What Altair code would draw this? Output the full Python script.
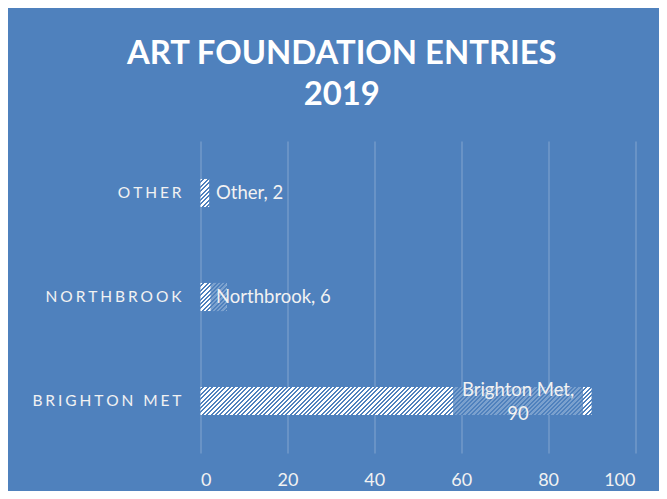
import altair as alt
import pandas as pd

# ---- data ----
categories = ["Other", "Northbrook", "Brighton Met"]
entries = [2, 6, 90]
x_ticks = [0, 20, 40, 60, 80, 100]
title_lines = ["ART FOUNDATION ENTRIES", "2019"]

# ---- style / layout ----
BG = "#4F81BD"
TXT = "#F2F2F2"
FONT = "Lato"
PLOT_W = 434.5
PLOT_H = 312
PAD = {"left": 192.5, "top": 133, "right": 24, "bottom": 38}
X_MAX = 100
PAD_INNER = 0.73
STEP = PLOT_H / len(categories)
BAR_H = STEP * (1 - PAD_INNER)
PX = PLOT_W / X_MAX

df = pd.DataFrame({"name": categories, "value": entries})
df["label"] = df["name"] + ", " + df["value"].astype(str)


def hatch(width_px, height_px, period=4.4, white=0.55):
    """Diagonal '/' stripe fill built as a hard-stop linear gradient."""
    a = height_px / width_px
    s = (width_px + height_px) / (width_px * (1 + a * a))
    pt = period / (width_px + height_px)
    stops = []
    k = 0
    while k * pt < 1:
        t0 = k * pt
        t1 = min(t0 + white * pt, 1)
        t2 = min(t0 + pt, 1)
        stops += [(t0, "#FFFFFF"), (t1, "#FFFFFF"), (t1, BG), (t2, BG)]
        k += 1
    return alt.LinearGradient(
        gradient="linear", x1=0, y1=0, x2=s, y2=s * a,
        stops=[alt.GradientStop(color=c, offset=round(o, 5)) for o, c in stops],
    )


x_scale = alt.Scale(domain=[0, X_MAX], nice=False, zero=True)
y_scale = alt.Scale(domain=categories, paddingInner=PAD_INNER, paddingOuter=PAD_INNER / 2)

x_axis = alt.Axis(
    values=x_ticks, grid=True, gridColor="white", gridOpacity=0.3, gridWidth=1,
    domain=False, ticks=False, labelFont=FONT, labelFontSize=18, labelColor=TXT,
    labelPadding=18, title=None,
)
y_axis = alt.Axis(
    domain=False, ticks=False, labelPadding=19.5, labelFont=FONT, labelFontSize=15.5,
    labelColor=TXT, title=None, grid=False,
    labelExpr="join(split(upper(datum.label), ''), '\u2009\u200a')",
)

X = alt.X("value:Q", scale=x_scale, axis=x_axis)
Y = alt.Y("name:N", scale=y_scale, sort=categories, axis=y_axis)

base = alt.Chart(df)

layers = []
for c, v in zip(categories, entries):
    layers.append(
        base.transform_filter(alt.datum.name == c)
        .mark_bar(color=hatch(v * PX, BAR_H))
        .encode(x=X, y=Y)
    )

# semi-transparent label boxes over the bars
box_small = (
    base.transform_filter(alt.datum.name == "Northbrook")
    .mark_bar(color=BG, opacity=0.75, x2Offset=10)
    .encode(x=X, x2=alt.datum(0), y=Y)
)
box_big = (
    base.transform_filter(alt.datum.name == "Brighton Met")
    .mark_bar(color=BG, opacity=0.75, xOffset=-138.5, x2Offset=-8.5)
    .encode(x=X, x2="value:Q", y=Y)
)

labels_small = (
    base.transform_filter(alt.datum.name != "Brighton Met")
    .mark_text(align="left", baseline="middle", dx=15.5, font=FONT, fontSize=18.5, color=TXT)
    .encode(x=alt.X(datum=0, type="quantitative", scale=x_scale, axis=x_axis), y=Y, text="label:N")
)
labels_big = (
    base.transform_filter(alt.datum.name == "Brighton Met")
    .transform_calculate(lines="[datum.name + ',', '' + datum.value]")
    .mark_text(align="center", baseline="middle", dx=-73.5, dy=-11, lineHeight=24,
               font=FONT, fontSize=18.5, color=TXT)
    .encode(x=X, y=Y, text="lines:N")
)

chart = (
    alt.layer(*layers, box_small, box_big, labels_small, labels_big)
    .properties(
        width=PLOT_W, height=PLOT_H,
        padding=PAD,
        autosize=alt.AutoSizeParams(type="none"),
        background=BG,
        title=alt.TitleParams(
            text=title_lines, font=FONT, fontSize=32.8, fontWeight="bold", color="white",
            anchor="middle", dx=-76, lineHeight=41, offset=29,
        ),
    )
    .configure_view(stroke=None)
)

chart.save("out.html", embed_options={"renderer": "svg", "actions": False})
